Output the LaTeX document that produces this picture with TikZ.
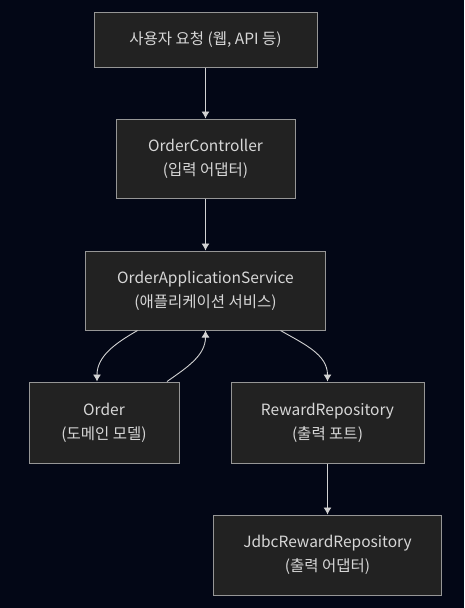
\documentclass[tikz,border=0pt]{standalone}
\usepackage{fontspec}
\setmainfont{Noto Sans CJK KR}
\usepackage{tikz}
\usetikzlibrary{arrows.meta}

\definecolor{bgcol}{RGB}{3,7,22}
\definecolor{boxfill}{RGB}{34,34,34}
\definecolor{boxline}{RGB}{150,150,150}
\definecolor{txtcol}{RGB}{215,215,215}
\definecolor{linecol}{RGB}{210,210,210}

\begin{document}
\begin{tikzpicture}[x=1pt,y=1pt,>={Latex[width=8pt,length=7pt]},thick,
  box node/.style={rectangle,draw=boxline,fill=boxfill,text=txtcol,align=center,inner sep=0pt,line width=1pt,font=\fontsize{15.5}{24}\selectfont},
  flow/.style={->,draw=linecol,line width=0.9pt}]

  \fill[bgcol] (0,0) rectangle (464,-608);
  \useasboundingbox (0,0) rectangle (464,-608);

  \node[box node,minimum width=223pt,minimum height=55pt] (req) at (205.5,-39.5) {사용자 요청 (웹, API 등)};
  \node[box node,minimum width=179pt,minimum height=79pt] (ctrl) [below of=req,node distance=119pt] {OrderController\\(입력 어댑터)};
  \node[box node,minimum width=240pt,minimum height=79pt] (svc) [below of=ctrl,node distance=132pt] {OrderApplicationService\\(애플리케이션 서비스)};
  \node[box node,minimum width=150pt,minimum height=81pt] (dom) at (104,-422.5) {Order\\(도메인 모델)};
  \node[box node,minimum width=193pt,minimum height=81pt] (repo) at (327.5,-422.5) {RewardRepository\\(출력 포트)};
  \node[box node,minimum width=228pt,minimum height=80pt] (jdbc) [below of=repo,node distance=132.5pt] {JdbcRewardRepository\\(출력 어댑터)};

  \path[every edge/.style={draw,flow}]
    (req) edge (ctrl)
    (ctrl) edge (svc)
    ([xshift=-68pt]svc.south) edge[out=-150,in=90] ([xshift=-7pt]dom.north)
    ([xshift=63pt]dom.north) edge[out=35,in=-90] (svc.south)
    ([xshift=75pt]svc.south) edge[out=-30,in=90] (repo.north)
    (repo) edge (jdbc);

\end{tikzpicture}
\end{document}
